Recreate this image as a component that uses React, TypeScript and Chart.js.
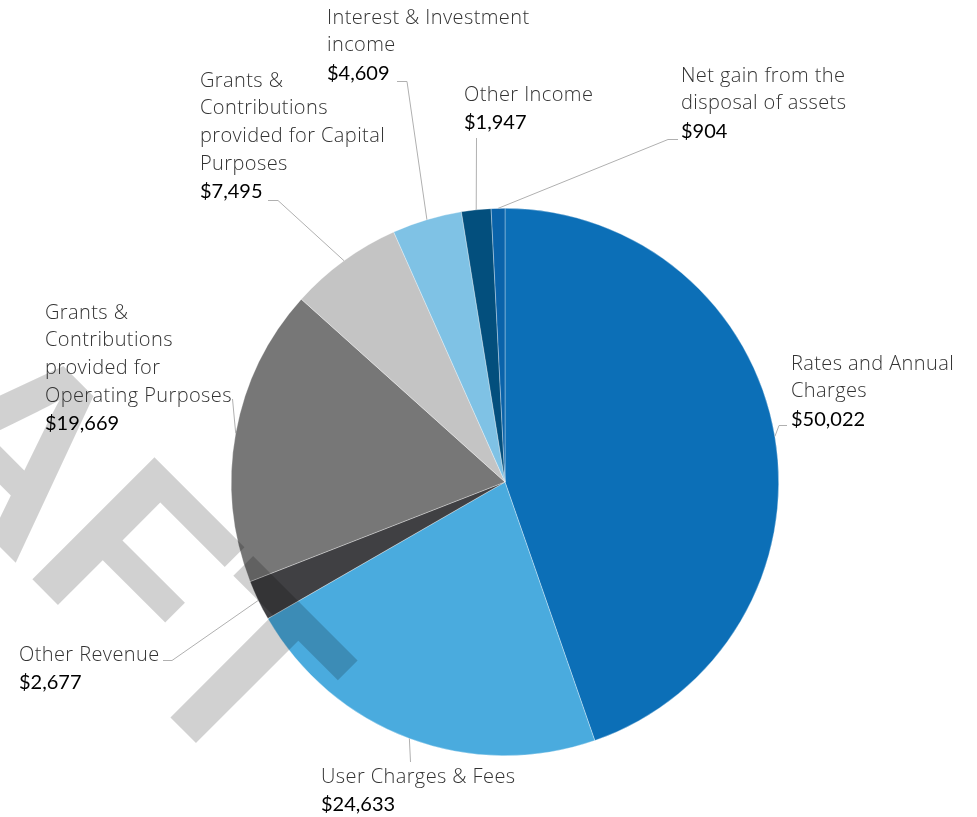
import React, { useEffect, useRef } from "react";
import { Chart, registerables } from "chart.js";

Chart.register(...registerables);

// ---- data ----
const categories = [
  "Rates and Annual Charges",
  "User Charges & Fees",
  "Other Revenue",
  "Grants & Contributions provided for Operating Purposes",
  "Grants & Contributions provided for Capital Purposes",
  "Interest & Investment income",
  "Other Income",
  "Net gain from the disposal of assets",
];
const values = [50022, 24633, 2677, 19669, 7495, 4609, 1947, 904];
const labelLines = [
  ["Rates and Annual", "Charges"],
  ["User Charges & Fees"],
  ["Other Revenue"],
  ["Grants &", "Contributions", "provided for", "Operating Purposes"],
  ["Grants &", "Contributions", "provided for Capital", "Purposes"],
  ["Interest & Investment", "income"],
  ["Other Income"],
  ["Net gain from the", "disposal of assets"],
];
const colors = [
  "#0C6FB7",
  "#4AABDE",
  "#404043",
  "#777777",
  "#C4C4C4",
  "#7FC2E5",
  "#034F7D",
  "#0A63AA",
];

// ---- label layout (text left x, first line centre y, leader elbow points) ----
const labelLayout = [
  { x: 791, y: 364, path: [[779, 425.5], [787, 425.5]] },
  { x: 321, y: 777, path: [[410.5, 762]] },
  { x: 19, y: 655, path: [[172, 660.5], [163, 660.5]] },
  { x: 45, y: 313, path: [[232.5, 399]] },
  { x: 200, y: 81, path: [[278, 200.5], [268, 200.5]] },
  { x: 327, y: 18, path: [[407, 81.5], [397, 81.5]] },
  { x: 464, y: 95, path: [[476.5, 138]] },
  { x: 681, y: 76, path: [[668, 139.5], [678, 139.5]] },
];
const LINE_H = 27.7;

const watermarkPlugin = {
  id: "watermark",
  afterDatasetsDraw(chart: any) {
    const ctx = chart.ctx;
    ctx.save();
    ctx.rotate(Math.PI / 4);
    ctx.fillStyle = "rgba(0,0,0,0.18)";
    ctx.font = "bold 251px 'Liberation Sans', Arial, sans-serif";
    ctx.textAlign = "left";
    ctx.textBaseline = "alphabetic";
    ctx.fillText("DRAFT", -128, 386.8);
    ctx.restore();
  },
};

const labelsPlugin = {
  id: "outerLabels",
  afterDraw(chart: any) {
    const ctx = chart.ctx;
    const meta = chart.getDatasetMeta(0);
    ctx.save();
    meta.data.forEach((arc: any, i: number) => {
      const p = arc.getProps(["x", "y", "startAngle", "endAngle", "outerRadius"], true);
      const mid = (p.startAngle + p.endAngle) / 2;
      const ax = p.x + Math.cos(mid) * p.outerRadius;
      const ay = p.y + Math.sin(mid) * p.outerRadius;
      const lay = labelLayout[i];
      ctx.strokeStyle = "#B0B0B0";
      ctx.lineWidth = 1;
      ctx.beginPath();
      ctx.moveTo(ax, ay);
      lay.path.forEach((pt) => ctx.lineTo(pt[0], pt[1]));
      ctx.stroke();

      ctx.textAlign = "left";
      ctx.textBaseline = "middle";
      const lines = labelLines[i];
      ctx.fillStyle = "#333333";
      ctx.font = "300 20px 'Open Sans', Lato, sans-serif";
      (ctx as any).letterSpacing = "0.4px";
      lines.forEach((t, k) => ctx.fillText(t, lay.x, lay.y + k * LINE_H));
      (ctx as any).letterSpacing = "0px";
      ctx.fillStyle = "#000000";
      ctx.font = "400 20px Lato, 'Open Sans', sans-serif";
      ctx.fillText("$" + values[i].toLocaleString("en-US"), lay.x, lay.y + lines.length * LINE_H);
    });
    ctx.restore();
  },
};

export default function App() {
  const ref = useRef<HTMLCanvasElement>(null);
  useEffect(() => {
    document.body.style.margin = "0";
    const chart = new Chart(ref.current as HTMLCanvasElement, {
      type: "pie",
      data: {
        labels: categories,
        datasets: [
          {
            data: values,
            backgroundColor: colors,
            borderColor: "rgba(255,255,255,0.55)",
            borderWidth: 0.6,
          },
        ],
      },
      options: {
        responsive: false,
        animation: false,
        events: [],
        layout: { padding: { top: 208, bottom: 61, left: 231, right: 198 } },
        plugins: { legend: { display: false }, tooltip: { enabled: false } },
      },
      plugins: [watermarkPlugin, labelsPlugin],
    } as any);
    return () => chart.destroy();
  }, []);
  return (
    <div style={{ width: 977, height: 817, background: "#fff" }}>
      <canvas ref={ref} width={977} height={817} />
    </div>
  );
}
